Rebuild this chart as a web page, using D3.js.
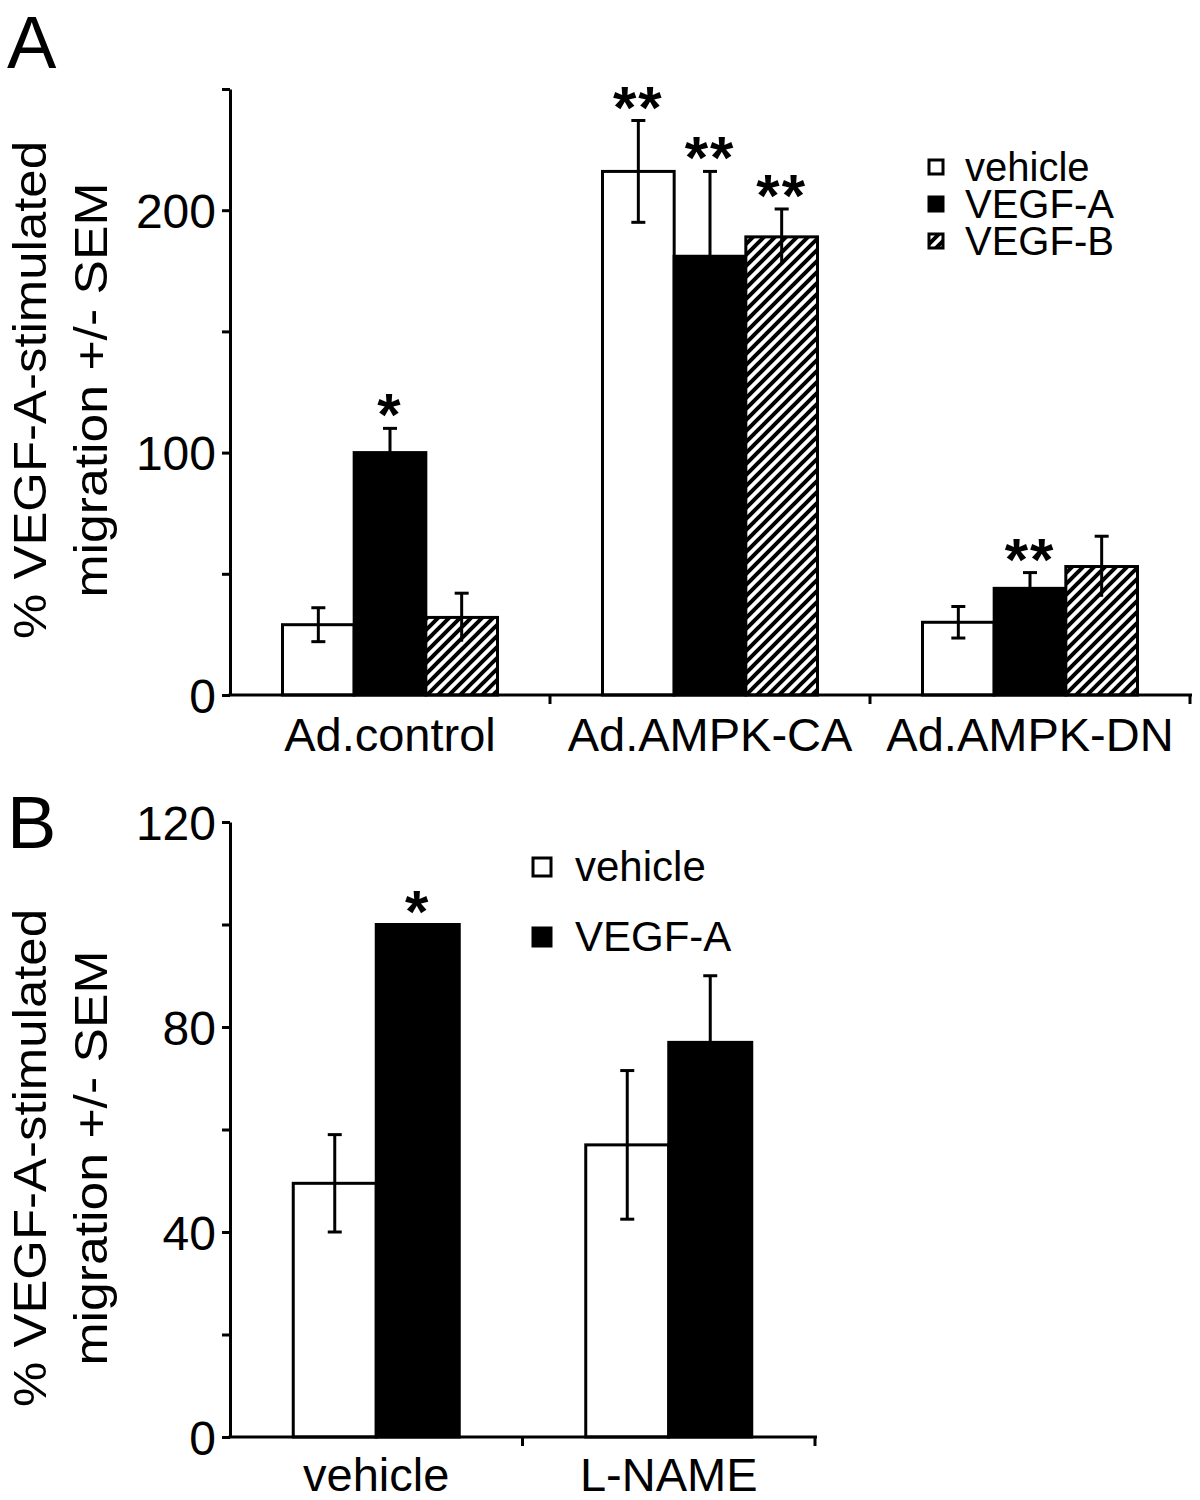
<!DOCTYPE html>
<html><head><meta charset="utf-8">
<script src="https://cdn.jsdelivr.net/npm/d3@7"></script>
<style>
body{margin:0;background:#fff}
svg text{font-family:"Liberation Sans",Arial,Helvetica,sans-serif;fill:#000}
</style>
</head><body>
<svg id="chart" width="1200" height="1500"></svg>
<script>
// ---------- Panel A data ----------
const categoriesA = ["Ad.control", "Ad.AMPK-CA", "Ad.AMPK-DN"];
const seriesA = ["vehicle", "VEGF-A", "VEGF-B"];
const vehicleA = [29, 216, 30];
const vegfA_A = [100, 181, 44];
const vegfB_A = [32, 189, 53];
const vehicleErrA = [7, 21, 6.5];
const vegfA_ErrA = [10, 35, 6.5];
const vegfB_ErrA = [10, 11.5, 12.5];
const starsA = [
  {cat: "Ad.control", ser: "VEGF-A", label: "*"},
  {cat: "Ad.AMPK-CA", ser: "vehicle", label: "**"},
  {cat: "Ad.AMPK-CA", ser: "VEGF-A", label: "**"},
  {cat: "Ad.AMPK-CA", ser: "VEGF-B", label: "**"},
  {cat: "Ad.AMPK-DN", ser: "VEGF-A", label: "**"}
];
const yTicksA = [0, 50, 100, 150, 200, 250];
const yTickLabelsA = [0, 100, 200];

// ---------- Panel B data ----------
const categoriesB = ["vehicle", "L-NAME"];
const seriesB = ["vehicle", "VEGF-A"];
const vehicleB = [49.5, 57];
const vegfA_B = [100, 77];
const vehicleErrB = [9.5, 14.5];
const vegfA_ErrB = [0, 13];
const starsB = [{cat: "vehicle", ser: "VEGF-A", label: "*"}];
const yTicksB = [0, 20, 40, 60, 80, 100, 120];
const yTickLabelsB = [0, 40, 80, 120];

const yTitle1 = "% VEGF-A-stimulated";
const yTitle2 = "migration +/- SEM";

// ---------- drawing ----------
const svg = d3.select("#chart");
svg.append("rect").attr("width", 1200).attr("height", 1500).attr("fill", "#fff");
const defs = svg.append("defs");
const pat = defs.append("pattern").attr("id", "hatch")
  .attr("patternUnits", "userSpaceOnUse").attr("width", 11).attr("height", 11);
pat.append("rect").attr("width", 11).attr("height", 11).attr("fill", "#fff");
pat.append("path").attr("d", "M-2.75,2.75L2.75,-2.75M0,11L11,0M8.25,13.75L13.75,8.25")
  .attr("stroke", "#000").attr("stroke-width", 4);

const fills = {"vehicle": "#fff", "VEGF-A": "#000", "VEGF-B": "url(#hatch)"};

function panel(o) {
  const g = svg.append("g");
  const x = d3.scaleBand().domain(o.categories).range([o.x0, o.x1]);
  const inner = d3.scaleBand().domain(o.series).range([0, o.groupW]);
  const off = (x.bandwidth() - o.groupW) / 2;
  const y = d3.scaleLinear().domain([0, o.ymax]).range([o.yBase, o.yTop]);
  const rows = [];
  o.categories.forEach((c, i) => o.series.forEach((s, j) =>
    rows.push({c, s, v: o.values[j][i], e: o.errors[j][i]})));
  const cx = d => x(d.c) + off + inner(d.s) + inner.bandwidth() / 2;

  g.selectAll("rect.bar").data(rows).join("rect").attr("class", "bar")
    .attr("x", d => x(d.c) + off + inner(d.s))
    .attr("width", inner.bandwidth())
    .attr("y", d => y(d.v))
    .attr("height", d => y(0) - y(d.v))
    .attr("fill", d => fills[d.s])
    .attr("stroke", "#000").attr("stroke-width", 3);

  const eb = g.selectAll("g.err").data(rows.filter(d => d.e > 0)).join("g").attr("class", "err")
    .attr("stroke", "#000").attr("stroke-width", 3);
  eb.append("line").attr("x1", cx).attr("x2", cx)
    .attr("y1", d => y(d.v - d.e)).attr("y2", d => y(d.v + d.e));
  eb.append("line").attr("x1", d => cx(d) - 7).attr("x2", d => cx(d) + 7)
    .attr("y1", d => y(d.v + d.e)).attr("y2", d => y(d.v + d.e));
  eb.filter(d => d.s === "vehicle").append("line")
    .attr("x1", d => cx(d) - 7).attr("x2", d => cx(d) + 7)
    .attr("y1", d => y(d.v - d.e)).attr("y2", d => y(d.v - d.e));

  // significance stars
  g.selectAll("text.star").data(o.stars).join("text").attr("class", "star")
    .attr("x", d => x(d.cat) + off + inner(d.ser) + inner.bandwidth() / 2)
    .attr("y", d => {
      const r = rows.find(q => q.c === d.cat && q.s === d.ser);
      return y(r.v + r.e) + 7;
    })
    .attr("text-anchor", "middle")
    .style("font-size", "60px").style("font-weight", "bold")
    .style("letter-spacing", "2px")
    .text(d => d.label);

  // y axis
  const ya = g.append("g").attr("transform", `translate(${o.x0},0)`)
    .call(d3.axisLeft(y).tickValues(o.yTicks).tickSize(8).tickSizeOuter(0).tickPadding(6)
      .tickFormat(d => o.yTickLabels.includes(d) ? d : ""));
  ya.select(".domain").attr("stroke-width", 3);
  ya.selectAll(".tick line").attr("stroke-width", 3);
  ya.selectAll(".tick text").style("font-size", "48px").attr("dy", "0.36em");

  // x axis
  g.append("line").attr("x1", o.x0 - 1.5).attr("x2", o.x1 + 2)
    .attr("y1", o.yBase).attr("y2", o.yBase)
    .attr("stroke", "#000").attr("stroke-width", 3);
  g.selectAll("line.bound").data(o.categories).join("line").attr("class", "bound")
    .attr("x1", d => x(d) + x.bandwidth()).attr("x2", d => x(d) + x.bandwidth())
    .attr("y1", o.yBase).attr("y2", o.yBase + 9)
    .attr("stroke", "#000").attr("stroke-width", 3);
  const xa = g.append("g").attr("transform", `translate(0,${o.yBase})`)
    .call(d3.axisBottom(x).tickSize(0).tickPadding(o.catPad));
  xa.select(".domain").remove();
  xa.selectAll(".tick text").style("font-size", "47px");

  // y title
  const t = g.append("g");
  t.append("text").attr("transform", `translate(${o.t1x},${o.tcy}) rotate(-90)`)
    .attr("text-anchor", "middle").style("font-size", "47px")
    .attr("textLength", o.t1len).attr("lengthAdjust", "spacingAndGlyphs")
    .text(yTitle1);
  t.append("text").attr("transform", `translate(${o.t2x},${o.tcy}) rotate(-90)`)
    .attr("text-anchor", "middle").style("font-size", "47px")
    .attr("textLength", o.t2len).attr("lengthAdjust", "spacingAndGlyphs")
    .text(yTitle2);

  // panel letter
  g.append("text").attr("x", 7).attr("y", o.letterY).style("font-size", "74px").text(o.letter);

  // legend
  const lg = g.append("g").selectAll("g").data(o.series).join("g")
    .attr("transform", (d, i) => `translate(${o.legX},${o.legY + i * o.legStep})`);
  lg.append("rect").attr("x", 0).attr("y", -o.legBox / 2 - 14).attr("width", o.legBox).attr("height", o.legBox)
    .attr("fill", d => fills[d]).attr("stroke", "#000").attr("stroke-width", 3);
  lg.append("text").attr("x", o.legTextDx).attr("y", 0).style("font-size", o.legFont + "px").text(d => d);
}

panel({
  categories: categoriesA, series: seriesA,
  values: [vehicleA, vegfA_A, vegfB_A], errors: [vehicleErrA, vegfA_ErrA, vegfB_ErrA],
  stars: starsA, yTicks: yTicksA, yTickLabels: yTickLabelsA,
  x0: 230, x1: 1190, groupW: 215, ymax: 250, yBase: 695, yTop: 89,
  catPad: 23, t1x: 46, t2x: 107, tcy: 390, t1len: 498, t2len: 415,
  letter: "A", letterY: 68,
  legX: 929, legY: 181, legStep: 37, legBox: 14, legTextDx: 36, legFont: 40
});

panel({
  categories: categoriesB, series: seriesB,
  values: [vehicleB, vegfA_B], errors: [vehicleErrB, vegfA_ErrB],
  stars: starsB, yTicks: yTicksB, yTickLabels: yTickLabelsB,
  x0: 230, x1: 815, groupW: 166, ymax: 120, yBase: 1437, yTop: 822,
  catPad: 21, t1x: 46, t2x: 107, tcy: 1158, t1len: 498, t2len: 415,
  letter: "B", letterY: 848,
  legX: 533, legY: 881, legStep: 70, legBox: 18, legTextDx: 42, legFont: 42
});
</script>
</body></html>
